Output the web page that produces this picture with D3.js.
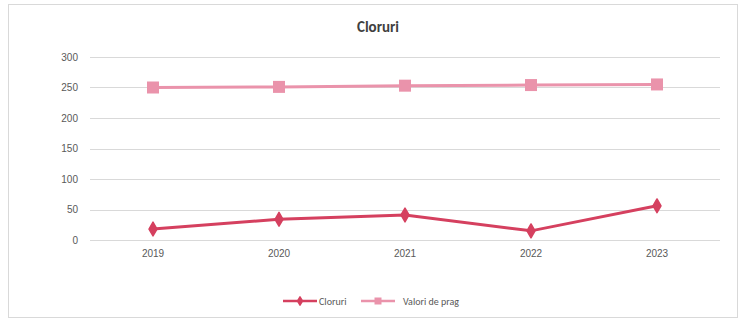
<!DOCTYPE html>
<html lang="ro">
<head>
    <meta charset="UTF-8">
    <title>Cloruri</title>
    <script src="https://d3js.org/d3.v7.min.js"></script>
    <style>
        body {
            margin: 0;
            background: #fff;
            font-family: Carlito, "Liberation Sans", "Open Sans", sans-serif;
        }
        svg { display: block; }
        .grid line { stroke: #d9d9d9; stroke-width: 1; }
        .axis text { fill: #595959; font-size: 10px; }
        .axis path, .axis line { display: none; }
        .title { font-size: 15px; font-weight: bold; fill: #404040; }
        .legend text { font-size: 10px; fill: #595959; }
    </style>
</head>
<body>
    <svg width="744" height="321"></svg>
    <script>
        // Data
        const years = ["2019", "2020", "2021", "2022", "2023"];
        const cloruri = [18, 34, 41, 15, 56];
        const valoriPrag = [250, 251, 253, 254, 255];
        const yTicks = [0, 50, 100, 150, 200, 250, 300];

        const series = [
            {name: "Cloruri", values: cloruri, color: "#d5405f", marker: "diamond"},
            {name: "Valori de prag", values: valoriPrag, color: "#ea93ab", marker: "square"}
        ];

        const svg = d3.select("svg");

        // outer chart border
        svg.append("rect")
           .attr("x", 8.5).attr("y", 4.5)
           .attr("width", 729).attr("height", 313)
           .attr("fill", "#fff")
           .attr("stroke", "#d9d9d9");

        const margin = {top: 57, left: 90, right: 24, bottom: 81};
        const width = 744 - margin.left - margin.right,
              height = 321 - margin.top - margin.bottom;

        const g = svg.append("g")
                     .attr("transform", `translate(${margin.left},${margin.top})`);

        const x = d3.scaleBand().domain(years).range([0, width]);
        const y = d3.scaleLinear().domain([0, 300]).range([height, 0]);

        // gridlines
        g.append("g")
         .attr("class", "grid")
         .selectAll("line")
         .data(yTicks)
         .join("line")
         .attr("x1", 0).attr("x2", width)
         .attr("y1", d => Math.round(y(d)) + 0.5)
         .attr("y2", d => Math.round(y(d)) + 0.5);

        // axes
        g.append("g")
         .attr("class", "axis")
         .call(d3.axisLeft(y).tickValues(yTicks).tickSize(0).tickPadding(12));

        g.append("g")
         .attr("class", "axis")
         .attr("transform", `translate(0,${height})`)
         .call(d3.axisBottom(x).tickSize(0).tickPadding(10));

        // title
        svg.append("text")
           .attr("class", "title")
           .attr("x", 378).attr("y", 32)
           .attr("text-anchor", "middle")
           .text("Cloruri");

        const cx = d => x(d) + x.bandwidth() / 2;

        function drawMarker(sel, type, color, size) {
            if (type === "square") {
                sel.append("rect")
                   .attr("x", -size / 2).attr("y", -size / 2)
                   .attr("width", size).attr("height", size)
                   .attr("fill", color);
            } else {
                sel.append("path")
                   .attr("d", d3.symbol(d3.symbolDiamond, size * size * 0.55)())
                   .attr("fill", color)
                   .attr("stroke", color)
                   .attr("stroke-width", 1.5)
                   .attr("stroke-linejoin", "round");
            }
        }

        series.forEach(s => {
            const line = d3.line()
                           .x((d, i) => cx(years[i]))
                           .y(d => y(d));
            g.append("path")
             .datum(s.values)
             .attr("fill", "none")
             .attr("stroke", s.color)
             .attr("stroke-width", 3)
             .attr("d", line);

            s.values.forEach((v, i) => {
                const m = g.append("g")
                           .attr("transform", `translate(${cx(years[i])},${y(v)})`);
                drawMarker(m, s.marker, s.color, s.marker === "square" ? 12 : 10);
            });
        });

        // legend
        const legend = svg.append("g").attr("class", "legend")
                          .attr("transform", "translate(0,301)");
        const legendPos = [283, 361];
        const legendText = [319, 403];
        series.forEach((s, i) => {
            const lg = legend.append("g");
            lg.append("line")
              .attr("x1", legendPos[i]).attr("x2", legendPos[i] + 34)
              .attr("stroke", s.color).attr("stroke-width", 2.5);
            const m = lg.append("g")
                        .attr("transform", `translate(${legendPos[i] + 17},0)`);
            drawMarker(m, s.marker, s.color, s.marker === "square" ? 7 : 6);
            lg.append("text")
              .attr("x", legendText[i]).attr("y", 3.5)
              .text(s.name);
        });
    </script>
</body>
</html>
